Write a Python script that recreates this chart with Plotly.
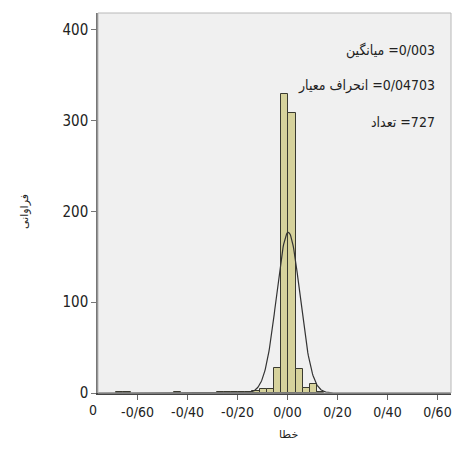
import numpy as np
import plotly.graph_objects as go

# ---- data ----
bin_start = -0.054
bin_width = 0.0287
bin_index = [-22, -21, -14, -8, -7, -6, -5, -4, -3, -2, -1, 0, 1, 2, 3, 4, 5, 6]
counts = [1, 1, 1, 1, 1, 1, 1, 1, 2, 4, 4, 28, 330, 308, 27, 5, 10, 1]

mean_val = 0.003
sd_val = 0.04703
n_val = 727

x_tick_vals = [-0.6, -0.4, -0.2, 0.0, 0.2, 0.4, 0.6]
x_tick_text = ["-0/60", "-0/40", "-0/20", "0/00", "0/20", "0/40", "0/60"]
y_tick_vals = [0, 100, 200, 300, 400]

stats_lines = ["میانگین\u200E =0/003", "انحراف معیار\u200E =0/04703", "تعداد\u200E =727"]
x_title = "خطا"
y_title = "فراوانی"

x_range = [-0.758, 0.654]
y_range = [0, 418.7]

FONT = "Liberation Sans Narrow, Arial Narrow, DejaVu Sans Condensed, sans-serif"

centers = [bin_start + (i + 0.5) * bin_width for i in bin_index]

# fitted normal curve from the displayed statistics
xc = np.linspace(x_range[0], x_range[1], 600)
yc = n_val * bin_width / (sd_val * np.sqrt(2 * np.pi)) * np.exp(-0.5 * ((xc - mean_val) / sd_val) ** 2)

fig = go.Figure()
fig.add_trace(go.Bar(
    x=centers, y=counts, width=bin_width,
    marker=dict(color="#d6d29c", line=dict(color="#3a3a30", width=1)),
    hoverinfo="x+y", showlegend=False,
))
fig.add_trace(go.Scatter(
    x=xc, y=yc, mode="lines",
    line=dict(color="#333333", width=1.2), showlegend=False, hoverinfo="skip",
))

fig.update_layout(
    width=456, height=449,
    margin=dict(l=98, r=5, t=13, b=56),
    paper_bgcolor="white",
    plot_bgcolor="#f0f0f0",
    bargap=0,
    font=dict(family=FONT, size=14, color="#222"),
    xaxis=dict(
        range=x_range, tickvals=x_tick_vals, ticktext=x_tick_text,
        showgrid=False, zeroline=False,
        showline=True, linecolor="#444", linewidth=1.5,
        ticks="outside", ticklen=5, tickcolor="#666",
        tickfont=dict(family=FONT, size=14, color="#222"),
    ),
    yaxis=dict(
        range=y_range, tickvals=y_tick_vals,
        showgrid=False, zeroline=False,
        showline=True, linecolor="#777", linewidth=1.5,
        ticks="outside", ticklen=5, tickcolor="#777",
        tickfont=dict(family=FONT, size=15, color="#222"),
    ),
)

# frame (top/right light border)
fig.add_shape(type="rect", xref="paper", yref="paper", x0=0, y0=0, x1=1, y1=1,
              line=dict(color="#b8b8b8", width=1), layer="above")

# statistics box text
for k, (txt, yy) in enumerate(zip(stats_lines, [0.902, 0.81, 0.712])):
    fig.add_annotation(text=txt, xref="paper", yref="paper", x=(437 - 98) / 353, y=yy,
                       xanchor="right", yanchor="middle", showarrow=False,
                       font=dict(family=FONT, size=14, color="#222"))

# odd "0" label at the left end of the x axis
fig.add_annotation(text="0", xref="paper", yref="paper", x=(93 - 98) / 353, y=-17 / 380,
                   xanchor="center", yanchor="middle", showarrow=False,
                   font=dict(family=FONT, size=14, color="#222"))

# axis titles
fig.add_annotation(text=x_title, xref="paper", yref="paper", x=(288 - 98) / 353, y=-42 / 380,
                   xanchor="center", yanchor="middle", showarrow=False,
                   font=dict(family="DejaVu Sans", size=11, color="#222"))
fig.add_annotation(text=y_title, xref="paper", yref="paper", x=-(98 - 24) / 353, y=(393 - 212) / 380,
                   xanchor="center", yanchor="middle", showarrow=False, textangle=-90,
                   font=dict(family="DejaVu Sans", size=11, color="#222"))

fig.write_html("out.html")
